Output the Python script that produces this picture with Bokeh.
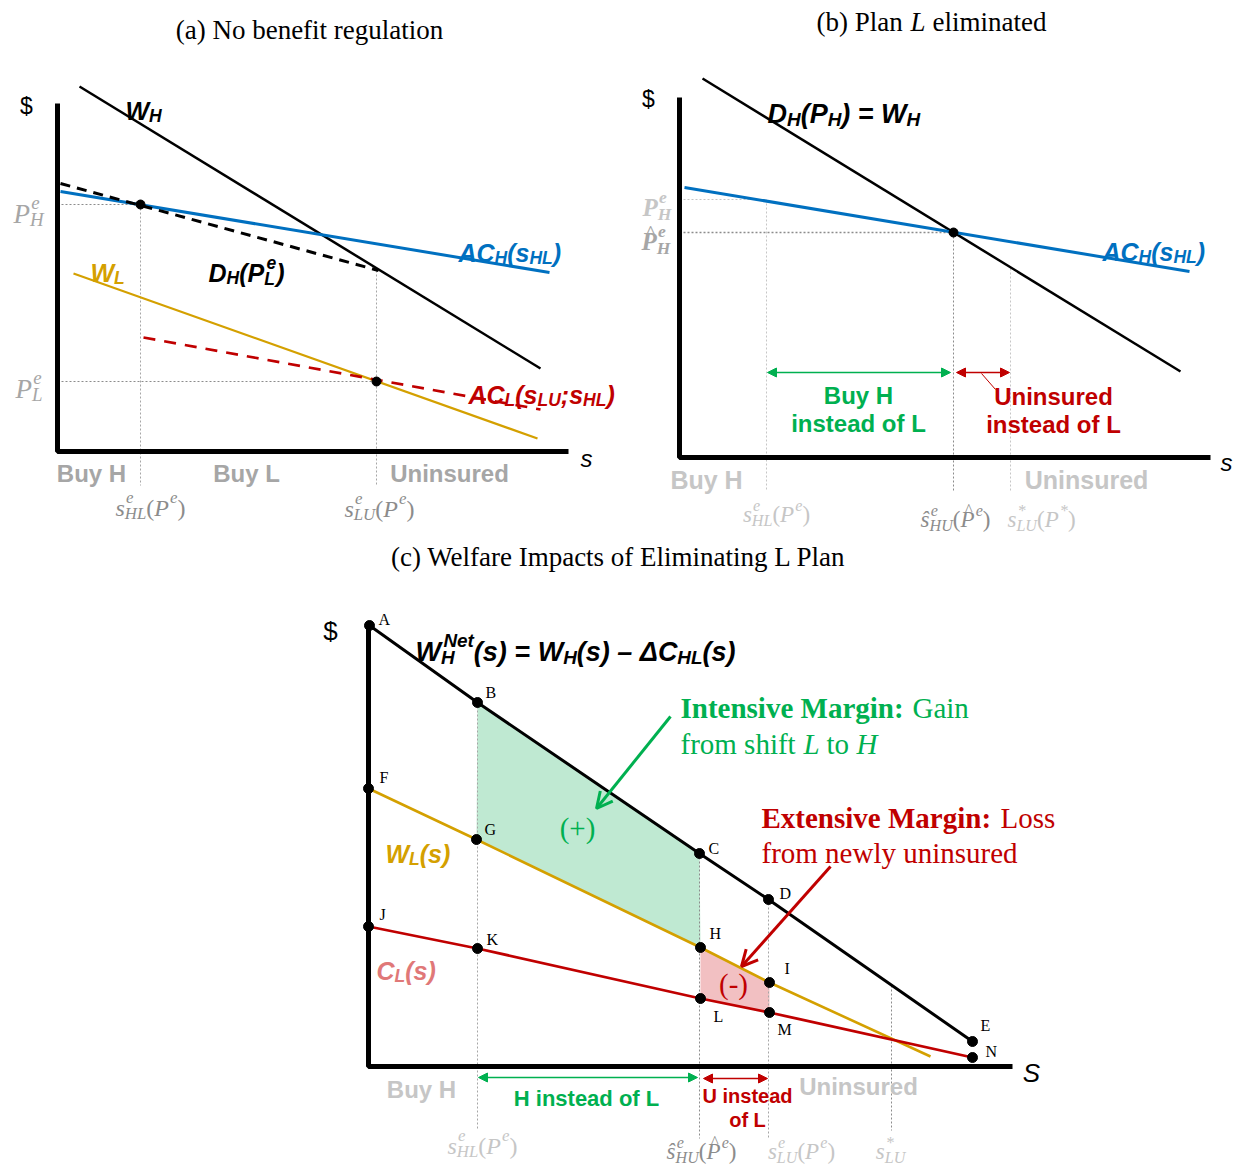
from bokeh.plotting import figure
from bokeh.models import Range1d, Arrow, NormalHead, OpenHead
from bokeh.embed import file_html
from bokeh.resources import INLINE
from bokeh.core.properties import value

# ------------------------------------------------------------------
# Diagram data (conceptual diagram; coordinates in page-pixel space)
# ------------------------------------------------------------------
# Panel (a): No benefit regulation
a_axis_x = [57, 57, 568]
a_axis_y = [103, 451, 451]
a_WH_x, a_WH_y = [79, 540], [86, 368]
a_ACH_x, a_ACH_y = [60, 549], [191, 272]
a_DH_x, a_DH_y = [60, 378], [183, 270]
a_WL_x, a_WL_y = [73, 537], [273, 438]
a_ACL_x, a_ACL_y = [143, 540], [337, 409]
a_eq_x, a_eq_y = [140, 376], [204, 381]
a_cat_labels = ["Buy H", "Buy L", "Uninsured"]
a_cat_x = [91, 246, 449]

# Panel (b): Plan L eliminated
b_axis_x = [679, 679, 1210]
b_axis_y = [97, 457, 457]
b_WH_x, b_WH_y = [702, 1180], [78, 371]
b_ACH_x, b_ACH_y = [684, 1189], [187, 271]
b_eq_x, b_eq_y = [953], [232]
b_PH_old_y = 199
b_sHL_x, b_sLU_x = 766, 1010
b_cat_labels = ["Buy H", "Uninsured"]
b_cat_x = [706, 1086]

# Panel (c): Welfare impacts
c_axis_x = [368, 368, 1012]
c_axis_y = [624, 1066, 1066]
c_WH_names = ["A", "B", "C", "D", "E"]
c_WH_x = [369, 477, 699, 768, 972]
c_WH_y = [625, 702, 853, 899, 1041]
c_WL_names = ["F", "G", "H", "I"]
c_WL_x = [368, 476, 700, 769, 930]
c_WL_y = [788, 839, 947, 982, 1056]
c_CL_names = ["J", "K", "L", "M", "N"]
c_CL_x = [368, 477, 700, 769, 972]
c_CL_y = [926, 948, 998, 1012, 1057]
c_name_dx = [9, 8, 9, 11, 8, 11, 8, 9, 15, 11, 9, 13, 8, 13]
c_name_dy = [-6, -10, -5, -6, -16, -11, -10, -14, -14, -12, -9, 18, 17, -6]
c_sLUstar_x = 891
c_cat_labels = ["Buy H", "Uninsured"]
c_cat_x, c_cat_y = [421, 858], [1089, 1086]

# ------------------------------------------------------------------
BLACK = "#000000"
BLUE = "#0070c0"
GOLD = "#d4a000"
RED = "#c00000"
GREEN = "#00b050"
PINK = "#e07878"
GFILL = "#bfe9d2"
RFILL = "#f2c0c2"
G1 = "#a6a6a6"
G2 = "#8c8c8c"
G3 = "#c6c6c6"
SERIF = "Liberation Serif"
SANS = "Liberation Sans"

W, H = 1235, 1167
p = figure(width=W, height=H, x_range=Range1d(0, W), y_range=Range1d(H, 0),
           x_axis_type=None, y_axis_type=None, toolbar_location=None,
           output_backend="svg", min_border=0, outline_line_color=None)
p.xgrid.visible = False
p.ygrid.visible = False
p.background_fill_color = "white"

SANS_B = {'A': .722, 'B': .722, 'C': .722, 'D': .722, 'H': .722, 'L': .611, 'N': .722,
          'P': .667, 'U': .722, 'W': .944, 's': .556, 'e': .556, 't': .333, '(': .333,
          ')': .333, ';': .333, '=': .584, ' ': .278, '–': .556, 'Δ': .668}
SERIF_I = {'P': .611, 'H': .722, 'L': .556, 'U': .722, 's': .389, 'ŝ': .389, 'e': .444,
           '(': .333, ')': .333, '*': .5}


def txt(x, y, s, size, color, font=SANS, style="normal", align="left", baseline="alphabetic"):
    p.text(x=[x], y=[y], text=[s], text_font=value(font), text_font_size=f"{size:.1f}px",
           text_font_style=style, text_color=color, text_align=align, text_baseline=baseline)


def math(x, y, parts, size, color, font, style, table, align="left", r=0.7):
    ic = 0.09 if font == SANS else 0.05   # italic correction for superscripts

    def w(s):
        return sum(table.get(ch, 0.55) for ch in s)

    def pw(pt):
        k = pt[0]
        if k in ('n', 'u', 'hat'):
            return w(pt[1]) * size
        if k == 'sub':
            return w(pt[1]) * size * r
        if k == 'sup':
            return w(pt[1]) * size * r + ic * size
        return max(w(pt[1]) * size * r + ic * size, w(pt[2]) * size * r)

    total = sum(pw(pt) for pt in parts)
    cx = {'left': x, 'center': x - total / 2, 'right': x - total}[align]
    up = "bold" if "bold" in style else "normal"
    for pt in parts:
        k = pt[0]
        if k == 'n':
            txt(cx, y, pt[1], size, color, font, style)
        elif k == 'u':
            txt(cx, y, pt[1], size, color, font, up)
        elif k == 'hat':
            txt(cx, y, pt[1], size, color, font, style)
            txt(cx + w(pt[1]) * size * 0.6, y - size * 0.42, "^", size * 0.7, color, font, up, align="center")
        elif k == 'sub':
            txt(cx, y + size * 0.22, pt[1], size * r, color, font, style)
        elif k == 'sup':
            txt(cx + ic * size, y - size * 0.40, pt[1], size * r, color, font, style)
        else:
            txt(cx + ic * size, y - size * 0.40, pt[1], size * r, color, font, style)
            txt(cx, y + size * 0.24, pt[2], size * r, color, font, style)
        cx += pw(pt)


DOT = "2 2"

# ======================= Panel (a) =======================
p.line([a_axis_x[0], a_eq_x[0]], [a_eq_y[0]] * 2, line_color=G2, line_dash=DOT, line_width=1.2)
p.line([a_axis_x[0], a_eq_x[1]], [a_eq_y[1]] * 2, line_color=G2, line_dash=DOT, line_width=1.2)
p.line([a_eq_x[0]] * 2, [a_eq_y[0], 485], line_color=G1, line_dash=DOT, line_width=1)
p.line([a_eq_x[1]] * 2, [a_DH_y[1], 485], line_color=G1, line_dash=DOT, line_width=1)
p.line(a_WH_x, a_WH_y, line_color=BLACK, line_width=2.5)
p.line(a_ACH_x, a_ACH_y, line_color=BLUE, line_width=3)
p.line(a_DH_x, a_DH_y, line_color=BLACK, line_width=3, line_dash="10 7")
p.line(a_WL_x, a_WL_y, line_color=GOLD, line_width=2.2)
p.line(a_ACL_x, a_ACL_y, line_color=RED, line_width=2.6, line_dash="12 9")
p.line(a_axis_x, a_axis_y, line_color=BLACK, line_width=5)
p.scatter(a_eq_x, a_eq_y, size=9, color=BLACK)

txt(309, 29, "(a) No benefit regulation", 27, BLACK, SERIF, align="center", baseline="middle")
txt(26, 105, "$", 23, BLACK, SANS, align="center", baseline="middle")
txt(586, 458, "s", 24, BLACK, SANS, "italic", align="center", baseline="middle")
math(125, 110, [('n', 'W'), ('sub', 'H')], 25, BLACK, SANS, "bold italic", SANS_B)
math(208, 272, [('n', 'D'), ('sub', 'H'), ('n', '(P'), ('ss', 'e', 'L'), ('n', ')')], 25, BLACK, SANS, "bold italic", SANS_B)
math(458, 252, [('n', 'AC'), ('sub', 'H'), ('n', '(s'), ('sub', 'HL'), ('n', ')')], 25, BLUE, SANS, "bold italic", SANS_B)
math(468, 394, [('n', 'AC'), ('sub', 'L'), ('n', '(s'), ('sub', 'LU'), ('n', ';s'), ('sub', 'HL'), ('n', ')')], 25, RED, SANS, "bold italic", SANS_B)
math(90, 272, [('n', 'W'), ('sub', 'L')], 25, GOLD, SANS, "bold italic", SANS_B)
math(13, 213, [('n', 'P'), ('ss', 'e', 'H')], 27, G1, SERIF, "italic", SERIF_I)
math(15, 388, [('n', 'P'), ('ss', 'e', 'L')], 27, G1, SERIF, "italic", SERIF_I)
for lab, x in zip(a_cat_labels, a_cat_x):
    txt(x, 473, lab, 24, G1, SANS, "bold", align="center", baseline="middle")
math(150, 507, [('n', 's'), ('ss', 'e', 'HL'), ('u', '('), ('n', 'P'), ('sup', 'e'), ('u', ')')], 24, G2, SERIF, "italic", SERIF_I, align="center")
math(379, 508, [('n', 's'), ('ss', 'e', 'LU'), ('u', '('), ('n', 'P'), ('sup', 'e'), ('u', ')')], 24, G2, SERIF, "italic", SERIF_I, align="center")

# ======================= Panel (b) =======================
p.line([b_axis_x[0], b_sHL_x], [b_PH_old_y] * 2, line_color=G3, line_dash=DOT, line_width=1.2)
p.line([b_axis_x[0], b_eq_x[0]], [b_eq_y[0]] * 2, line_color=G2, line_dash=DOT, line_width=1.3)
p.line([b_sHL_x] * 2, [b_PH_old_y, 490], line_color=G3, line_dash=DOT, line_width=1)
p.line([b_eq_x[0]] * 2, [b_eq_y[0], 492], line_color=G2, line_dash=DOT, line_width=1)
p.line([b_sLU_x] * 2, [268, 490], line_color=G3, line_dash=DOT, line_width=1)
p.line(b_WH_x, b_WH_y, line_color=BLACK, line_width=2.5)
p.line(b_ACH_x, b_ACH_y, line_color=BLUE, line_width=3)
p.line(b_axis_x, b_axis_y, line_color=BLACK, line_width=5)
p.scatter(b_eq_x, b_eq_y, size=9, color=BLACK)

p.add_layout(Arrow(start=NormalHead(size=9, fill_color=GREEN, line_color=GREEN),
                   end=NormalHead(size=9, fill_color=GREEN, line_color=GREEN),
                   x_start=b_sHL_x + 1, y_start=372, x_end=b_eq_x[0] - 3, y_end=372,
                   line_color=GREEN, line_width=1.5))
p.add_layout(Arrow(start=NormalHead(size=9, fill_color=RED, line_color=RED),
                   end=NormalHead(size=9, fill_color=RED, line_color=RED),
                   x_start=b_eq_x[0] + 3, y_start=372, x_end=b_sLU_x - 1, y_end=372,
                   line_color=RED, line_width=1.5))
p.line([981, 995], [373, 389], line_color=RED, line_width=1)

txt(816, 21, "(b) Plan", 27, BLACK, SERIF, baseline="middle")
txt(910, 21, "L", 27, BLACK, SERIF, "italic", baseline="middle")
txt(932, 21, "eliminated", 27, BLACK, SERIF, baseline="middle")
txt(648, 98, "$", 23, BLACK, SANS, align="center", baseline="middle")
txt(1226, 462, "s", 24, BLACK, SANS, "italic", align="center", baseline="middle")
math(767, 113, [('n', 'D'), ('sub', 'H'), ('n', '(P'), ('sub', 'H'), ('n', ') = W'), ('sub', 'H')], 27, BLACK, SANS, "bold italic", SANS_B)
math(1102, 251, [('n', 'AC'), ('sub', 'H'), ('n', '(s'), ('sub', 'HL'), ('n', ')')], 25, BLUE, SANS, "bold italic", SANS_B)
math(642, 207, [('n', 'P'), ('ss', 'e', 'H')], 25, G3, SERIF, "bold italic", SERIF_I)
math(641, 241, [('hat', 'P'), ('ss', 'e', 'H')], 25, G1, SERIF, "bold italic", SERIF_I)
txt(858, 395, "Buy H", 24, GREEN, SANS, "bold", align="center", baseline="middle")
txt(858, 423, "instead of L", 24, GREEN, SANS, "bold", align="center", baseline="middle")
txt(1053, 396, "Uninsured", 24, RED, SANS, "bold", align="center", baseline="middle")
txt(1053, 424, "instead of L", 24, RED, SANS, "bold", align="center", baseline="middle")
for lab, x in zip(b_cat_labels, b_cat_x):
    txt(x, 479, lab, 25, G3, SANS, "bold", align="center", baseline="middle")
math(776, 514, [('n', 's'), ('ss', 'e', 'HL'), ('u', '('), ('n', 'P'), ('sup', 'e'), ('u', ')')], 23, G3, SERIF, "italic", SERIF_I, align="center")
math(955, 519, [('n', 'ŝ'), ('ss', 'e', 'HU'), ('u', '('), ('hat', 'P'), ('sup', 'e'), ('u', ')')], 23, G2, SERIF, "italic", SERIF_I, align="center")
math(1041, 519, [('n', 's'), ('ss', '*', 'LU'), ('u', '('), ('n', 'P'), ('sup', '*'), ('u', ')')], 23, G3, SERIF, "italic", SERIF_I, align="center")

# ======================= Panel (c) =======================
gx = [c_WH_x[1], c_WH_x[2], c_WL_x[2], c_WL_x[1]]
gy = [c_WH_y[1], c_WH_y[2], c_WL_y[2], c_WL_y[1]]
p.patch(gx, gy, fill_color=GFILL, line_color=None)
rx = [c_WL_x[2], c_WL_x[3], c_CL_x[3], c_CL_x[2]]
ry = [c_WL_y[2], c_WL_y[3], c_CL_y[3], c_CL_y[2]]
p.patch(rx, ry, fill_color=RFILL, line_color=None)

p.line([c_WH_x[1]] * 2, [c_WH_y[1], 1128], line_color=G1, line_dash=DOT, line_width=1)
p.line([c_WH_x[2]] * 2, [c_WH_y[2], 1138], line_color=G2, line_dash=DOT, line_width=1)
p.line([c_WH_x[3]] * 2, [c_WH_y[3], 1138], line_color=G1, line_dash=DOT, line_width=1)
p.line([c_sLUstar_x] * 2, [985, 1130], line_color=G2, line_dash=DOT, line_width=1)

p.line(c_WH_x, c_WH_y, line_color=BLACK, line_width=3)
p.line(c_WL_x, c_WL_y, line_color=GOLD, line_width=2.6)
p.line(c_CL_x, c_CL_y, line_color=RED, line_width=2.8)
p.line(c_axis_x, c_axis_y, line_color=BLACK, line_width=5)

pts_x = c_WH_x + c_WL_x[:4] + c_CL_x
pts_y = c_WH_y + c_WL_y[:4] + c_CL_y
p.scatter(pts_x, pts_y, size=10, color=BLACK)
names = c_WH_names + c_WL_names + c_CL_names
for n, x, y, dx, dy in zip(names, pts_x, pts_y, c_name_dx, c_name_dy):
    txt(x + dx, y + dy, n, 16, BLACK, SERIF, baseline="middle")

p.add_layout(Arrow(end=OpenHead(size=16, line_color=GREEN, line_width=3),
                   x_start=670, y_start=716, x_end=596, y_end=808,
                   line_color=GREEN, line_width=3))
p.add_layout(Arrow(end=OpenHead(size=16, line_color=RED, line_width=3),
                   x_start=830, y_start=866, x_end=741, y_end=966,
                   line_color=RED, line_width=3))
p.add_layout(Arrow(start=NormalHead(size=9, fill_color=GREEN, line_color=GREEN),
                   end=NormalHead(size=9, fill_color=GREEN, line_color=GREEN),
                   x_start=c_WH_x[1] + 1, y_start=1077, x_end=c_WH_x[2] - 2, y_end=1077,
                   line_color=GREEN, line_width=1.5))
p.add_layout(Arrow(start=NormalHead(size=9, fill_color=RED, line_color=RED),
                   end=NormalHead(size=9, fill_color=RED, line_color=RED),
                   x_start=c_WH_x[2] + 4, y_start=1078, x_end=c_WH_x[3] - 1, y_end=1078,
                   line_color=RED, line_width=1.5))

txt(618, 556, "(c) Welfare Impacts of Eliminating L Plan", 27, BLACK, SERIF, align="center", baseline="middle")
txt(330, 630, "$", 26, BLACK, SANS, align="center", baseline="middle")
txt(1031, 1072, "S", 26, BLACK, SANS, "italic", align="center", baseline="middle")
math(415, 651, [('n', 'W'), ('ss', 'Net', 'H'), ('n', '(s) = W'), ('sub', 'H'), ('n', '(s) – ΔC'), ('sub', 'HL'), ('n', '(s)')], 27, BLACK, SANS, "bold italic", SANS_B)
math(385, 853, [('n', 'W'), ('sub', 'L'), ('n', '(s)')], 25, GOLD, SANS, "bold italic", SANS_B)
math(376, 970, [('n', 'C'), ('sub', 'L'), ('n', '(s)')], 25, PINK, SANS, "bold italic", SANS_B)
txt(577, 827, "(+)", 29, GREEN, SERIF, align="center", baseline="middle")
txt(733, 983, "(-)", 29, RED, SERIF, align="center", baseline="middle")

txt(680, 707, "Intensive Margin:", 29, GREEN, SERIF, "bold")
txt(912, 707, "Gain", 29, GREEN, SERIF)
txt(680, 743, "from shift", 29, GREEN, SERIF)
txt(803, 743, "L", 29, GREEN, SERIF, "italic")
txt(826, 743, "to", 29, GREEN, SERIF)
txt(856, 743, "H", 29, GREEN, SERIF, "italic")
txt(761, 817, "Extensive Margin:", 29, RED, SERIF, "bold")
txt(1000, 817, "Loss", 29, RED, SERIF)
txt(761, 852, "from newly uninsured", 29, RED, SERIF)

for lab, x, y in zip(c_cat_labels, c_cat_x, c_cat_y):
    txt(x, y, lab, 24, G3, SANS, "bold", align="center", baseline="middle")
txt(586, 1098, "H instead of L", 22, GREEN, SANS, "bold", align="center", baseline="middle")
txt(747, 1095, "U instead", 20, RED, SANS, "bold", align="center", baseline="middle")
txt(747, 1119, "of L", 20, RED, SANS, "bold", align="center", baseline="middle")
math(482, 1145, [('n', 's'), ('ss', 'e', 'HL'), ('u', '('), ('n', 'P'), ('sup', 'e'), ('u', ')')], 24, G3, SERIF, "italic", SERIF_I, align="center")
math(701, 1151, [('n', 'ŝ'), ('ss', 'e', 'HU'), ('u', '('), ('hat', 'P'), ('sup', 'e'), ('u', ')')], 23, G2, SERIF, "italic", SERIF_I, align="center")
math(801, 1151, [('n', 's'), ('ss', 'e', 'LU'), ('u', '('), ('n', 'P'), ('sup', 'e'), ('u', ')')], 23, G3, SERIF, "italic", SERIF_I, align="center")
math(890, 1151, [('n', 's'), ('ss', '*', 'LU')], 23, G3, SERIF, "italic", SERIF_I, align="center")

open("out.html", "w").write(file_html(p, INLINE))
